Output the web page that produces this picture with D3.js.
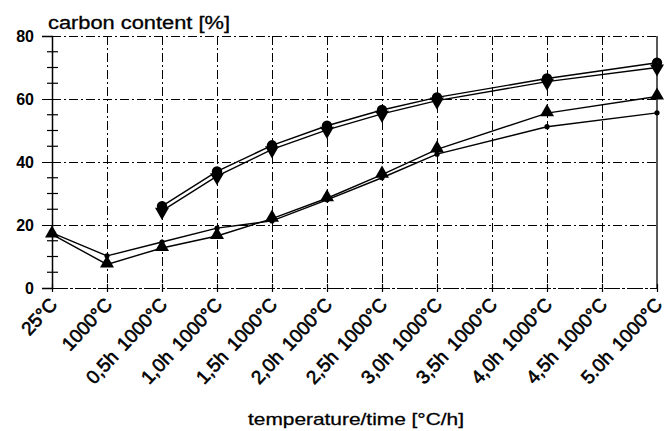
<!DOCTYPE html>
<html>
<head>
<meta charset="utf-8">
<script src="https://cdn.jsdelivr.net/npm/d3@7"></script>
<style>
  body { margin: 0; background: #fff; }
  text { font-family: "Liberation Sans", Arial, sans-serif; fill: #000; }
</style>
</head>
<body>
<svg id="chart" width="665" height="431"></svg>
<script>
// categories on the x axis
var categories = ["25°C", "1000°C", "0,5h 1000°C", "1,0h 1000°C", "1,5h 1000°C", "2,0h 1000°C",
  "2,5h 1000°C", "3,0h 1000°C", "3,5h 1000°C", "4,0h 1000°C", "4,5h 1000°C", "5.0h 1000°C"];
// carbon content [%], null = not measured
var circleVals  = [null, null, 26.0, 37.0, 45.3, 51.5, 56.5, 60.5, null, 66.5, null, 71.5];
var downTriVals = [null, null, 24.5, 35.5, 44.0, 50.2, 55.3, 59.5, null, 65.5, null, 70.0];
var upTriVals   = [17.0, 7.5, 12.7, 16.5, 22.0, 28.5, 36.0, 44.0, null, 55.5, null, 60.8];
var dotVals     = [17.5, 10.2, 14.6, 19.0, 21.3, 28.0, 35.0, 42.5, null, 51.2, null, 55.6];
var yTicks = [0, 20, 40, 60, 80];
var yMinor = [5, 10, 15, 25, 30, 35, 45, 50, 55, 65, 70, 75];

var svg = d3.select("#chart");
var x = d3.scalePoint().domain(categories).range([52, 657]);
var y = d3.scaleLinear().domain([0, 80]).range([288, 36]);
var dashDot = "9,3,2,3";

// horizontal grid
svg.append("g").selectAll("line")
  .data(yTicks)
  .enter().append("line")
  .attr("x1", 52).attr("x2", 657)
  .attr("y1", d => Math.round(y(d)) + 0.5).attr("y2", d => Math.round(y(d)) + 0.5)
  .attr("stroke", "#000").attr("stroke-width", 1)
  .attr("stroke-dasharray", d => d === 0 ? "16,2,3,2" : dashDot);

// vertical grid
svg.append("g").selectAll("line")
  .data(categories.slice(1, -1))
  .enter().append("line")
  .attr("x1", d => Math.round(x(d)) + 0.5).attr("x2", d => Math.round(x(d)) + 0.5)
  .attr("y1", y(80)).attr("y2", y(0))
  .attr("stroke", "#000").attr("stroke-width", 1)
  .attr("stroke-dasharray", dashDot);

// right border
svg.append("line")
  .attr("x1", x(categories[11])).attr("x2", x(categories[11]))
  .attr("y1", y(80)).attr("y2", y(0))
  .attr("stroke", "#000").attr("stroke-width", 1.3);

// y axis
var yAxis = svg.append("g").attr("transform", "translate(52,0)")
  .call(d3.axisLeft(y).tickValues(yTicks).tickSize(10).tickPadding(8));
yAxis.select(".domain").attr("stroke-width", 1.5);
yAxis.selectAll("text").attr("font-size", 16).attr("font-weight", "bold");
svg.append("g").selectAll("line")
  .data(yMinor)
  .enter().append("line")
  .attr("x1", 47).attr("x2", 58)
  .attr("y1", d => y(d)).attr("y2", d => y(d))
  .attr("stroke", "#000").attr("stroke-width", 1.2);

// x axis ticks and labels
var xAxis = svg.append("g").attr("transform", "translate(0,288)")
  .call(d3.axisBottom(x).tickSizeInner(4).tickSizeOuter(0));
xAxis.select(".domain").remove();
xAxis.selectAll(".tick line").attr("y1", -4).attr("stroke-width", 1.2);
xAxis.selectAll("text")
  .attr("font-size", 19)
  .attr("stroke", "#000").attr("stroke-width", 0.6)
  .attr("word-spacing", 3)
  .attr("text-anchor", "end")
  .attr("x", 0).attr("y", 0).attr("dy", "0.35em")
  .attr("transform", "translate(1,13) rotate(-47)");

// series lines
var line = d3.line()
  .x(d => x(d[0])).y(d => y(d[1]));
function pts(vals) {
  return categories.map((c, i) => [c, vals[i]]).filter(d => d[1] !== null);
}
[circleVals, downTriVals, upTriVals, dotVals].forEach(function(vals) {
  svg.append("path")
    .datum(pts(vals))
    .attr("d", line)
    .attr("fill", "none").attr("stroke", "#000").attr("stroke-width", 1.4);
});

// markers
var tri = d3.symbol().type(d3.symbolTriangle).size(85);
svg.append("g").selectAll("circle")
  .data(pts(dotVals)).enter().append("circle")
  .attr("cx", d => x(d[0])).attr("cy", d => y(d[1])).attr("r", 2.6);
svg.append("g").selectAll("path")
  .data(pts(upTriVals)).enter().append("path")
  .attr("d", tri)
  .attr("transform", d => "translate(" + x(d[0]) + "," + (y(d[1]) - 1) + ")");
svg.append("g").selectAll("path")
  .data(pts(downTriVals)).enter().append("path")
  .attr("d", tri)
  .attr("transform", d => "translate(" + x(d[0]) + "," + (y(d[1]) + 1) + ") rotate(180)");
svg.append("g").selectAll("circle")
  .data(pts(circleVals)).enter().append("circle")
  .attr("cx", d => x(d[0])).attr("cy", d => y(d[1])).attr("r", 5.2);

// titles
svg.append("text")
  .attr("x", 48).attr("y", 29)
  .attr("font-size", 18).attr("stroke", "#000").attr("stroke-width", 0.3)
  .attr("textLength", 182).attr("lengthAdjust", "spacingAndGlyphs")
  .text("carbon content [%]");
svg.append("text")
  .attr("x", 248).attr("y", 425)
  .attr("font-size", 17).attr("stroke", "#000").attr("stroke-width", 0.3)
  .attr("textLength", 216).attr("lengthAdjust", "spacingAndGlyphs")
  .text("temperature/time [°C/h]");
</script>
</body>
</html>
